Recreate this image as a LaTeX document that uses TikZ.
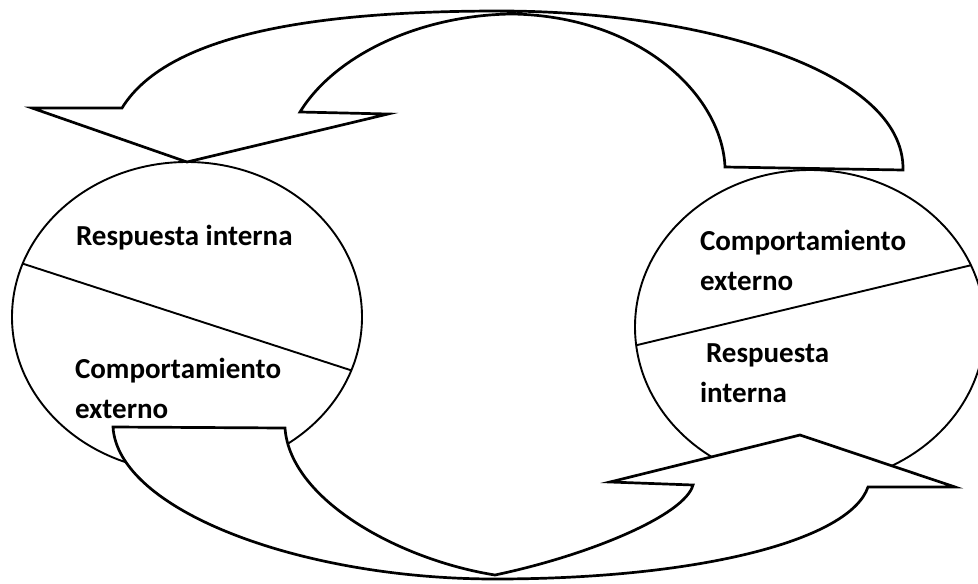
\documentclass[tikz,border=0pt]{standalone}
\usepackage{fontspec}
\setmainfont{Carlito}
\usetikzlibrary{shapes.geometric}
\tikzset{
  bubble/.style={ellipse, draw=black, line width=1.9pt, inner sep=0pt, outer sep=0pt},
  divider/.style={draw=black, line width=1.9pt},
  label/.style={anchor=base west, inner sep=0pt, outer sep=0pt, font=\bfseries\fontsize{29}{40}\selectfont},
  bandarrow/.style={draw=black, fill=white, line width=2.7pt, line join=miter}
}
\begin{document}
\begin{tikzpicture}[x=1pt, y=-1pt]
\clip (0,0) rectangle (978,584);
% circles
\node[bubble, minimum width=350pt, minimum height=310pt] (L) at (187,317) {};
\node[bubble, minimum width=350pt, minimum height=314pt] (R) at (810,327) {};
% dividers
\draw[divider] (L.162.5) -- (L.-18);
\draw[divider] (R.186.7) -- (R.21.2);
% texts
\node[label] (l1) at (76,245) {Respuesta interna};
\node[label] (l2) at (75,378) {Comportamiento};
\node[label] (l3) at (75,418) {externo};
\node[label] (r1) at (700,250) {Comportamiento};
\node[label] (r2) at (700,290) {externo};
\node[label] (r3) at (706,362) {Respuesta};
\node[label] (r4) at (700,402) {interna};
% top curved arrow (from right circle to left circle)
\coordinate (toptip) at (L.north);
\draw[bandarrow] (122,108) .. controls (170,30) and (330,11) .. (500,11)
  .. controls (700,11) and (905,70) .. (903,170) -- (725,167)
  .. controls (722,95) and (640,16) .. (512,14)
  .. controls (420,15) and (335,55) .. (300,112)
  -- (388,114) -- (toptip) -- (32,108) -- cycle;
% bottom curved arrow (from left circle to right circle)
\coordinate (bottip) at (800,435);
\draw[bandarrow] (113,427) .. controls (118,510) and (300,579) .. (495,579)
  .. controls (700,579) and (850,540) .. (868,487) -- (955,487) -- (bottip)
  -- (610,482) -- (693,485)
  .. controls (685,515) and (590,555) .. (495,575)
  .. controls (400,560) and (290,500) .. (285,428) -- cycle;
\end{tikzpicture}
\end{document}
